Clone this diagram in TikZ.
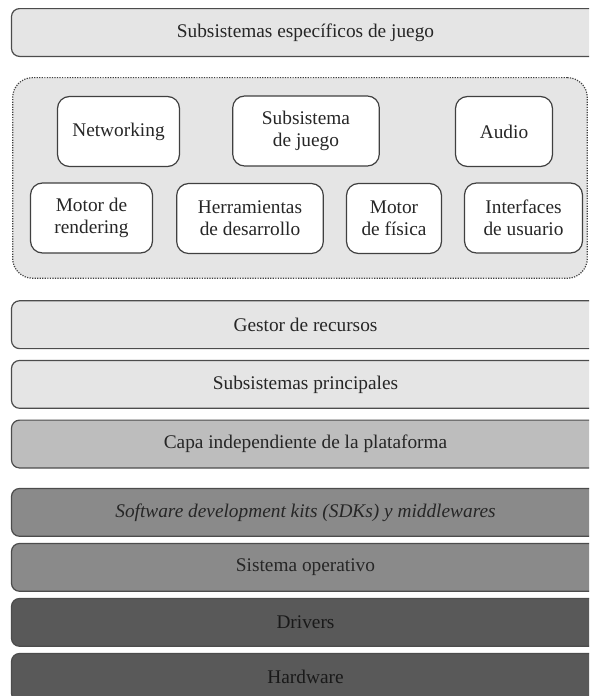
\documentclass[tikz,border=0pt]{standalone}
\usepackage{fontspec}
\setmainfont{Liberation Serif}
\usetikzlibrary{positioning}

\begin{document}
\begin{tikzpicture}[
  x=0.75pt, y=-0.75pt,
  node distance=4.5pt,
  layer/.style={
    draw=black!70, line width=0.9pt, rounded corners=6pt,
    minimum width=441pt, minimum height=35.85pt, inner sep=0pt,
    font=\fontsize{14.5}{16.3}\selectfont, text=black!85
  },
  comp/.style={
    draw=black!75, fill=white, line width=0.9pt, rounded corners=9pt,
    minimum height=52.5pt, inner sep=0pt, align=center,
    font=\fontsize{14.5}{16.3}\selectfont, text=black!85
  },
  group/.style={
    draw=black!75, densely dotted, line width=0.9pt, fill=black!10,
    rounded corners=15pt, minimum width=431pt, minimum height=150.5pt
  }
]
  \clip (0,0) rectangle (589,696);

  \node[layer, fill=black!10] (esp) at (305.5,32.5) {Subsistemas específicos de juego};
  \node[group, below=15pt of esp, xshift=-4.125pt] (motor) {};

  % componentes del motor
  \node[comp, minimum width=91.5pt] (net) at (118.5,131.5) {Networking};
  \node[comp, minimum width=110pt] (juego) at (306,131) {Subsistema\\de juego};
  \node[comp, minimum width=72.75pt] (audio) at (504,131.5) {Audio};
  \node[comp, minimum width=91.5pt] (render) at (91.5,218) {Motor de\\rendering};
  \node[comp, minimum width=110pt] (herr) at (250,218.5) {Herramientas\\de desarrollo};
  \node[comp, minimum width=71.25pt] (fisica) at (394,218.5) {Motor\\de física};
  \node[comp, minimum width=88.5pt] (ui) at (523.5,218) {Interfaces\\de usuario};

  % capas inferiores
  \node[layer, fill=black!10, below=16pt of motor, xshift=4.125pt] (gestor) {Gestor de recursos};
  \node[layer, fill=black!10, below=8pt of gestor] (princ) {Subsistemas principales};
  \node[layer, fill=black!26, below=8pt of princ] (capa) {Capa independiente de la plataforma};
  \node[layer, fill=black!46, below=14.5pt of capa] (sdk) {\itshape Software development kits (SDKs) y middlewares};
  \node[layer, fill=black!46, below=of sdk] (so) {Sistema operativo};
  \node[layer, fill=black!65, text=black!90, below=of so] (drv) {Drivers};
  \node[layer, fill=black!65, text=black!90, below=of drv] (hw) {Hardware};
\end{tikzpicture}
\end{document}
